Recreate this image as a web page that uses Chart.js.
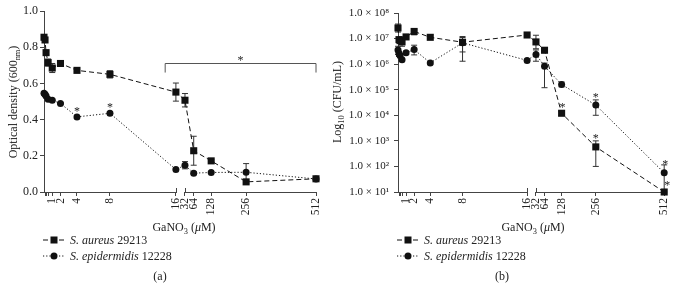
<!DOCTYPE html>
<html><head><meta charset="utf-8">
<script src="https://cdn.jsdelivr.net/npm/chart.js@4.4.1/dist/chart.umd.min.js"></script>
<style>
html,body{margin:0;padding:0;background:#fff;}
#wrap{position:relative;width:680px;height:288px;overflow:hidden;font-family:"Liberation Serif","DejaVu Serif",serif;color:#222;}
.cw{position:absolute;top:0;width:340px;height:245px;}
.ytitle{position:absolute;width:200px;height:16px;line-height:16px;text-align:center;font-size:12px;transform:rotate(-90deg);white-space:nowrap;}
.xtitle{position:absolute;width:200px;text-align:center;font-size:12px;line-height:14px;white-space:nowrap;}
.leg{position:absolute;font-size:12px;white-space:nowrap;}
.leg div{height:16px;line-height:16px;}
.leg svg{vertical-align:middle;margin-right:5px;position:relative;top:-1px}
.plab{position:absolute;width:40px;text-align:center;font-size:12px;}
sub{font-size:70%;vertical-align:-3px;line-height:0}
</style></head><body>
<div id="wrap">
 <div class="cw" style="left:0"><canvas id="ca"></canvas></div>
 <div class="cw" style="left:340px"><canvas id="cb"></canvas></div>
 <div class="ytitle" style="left:-87px;top:94px">Optical density (600<sub>nm</sub>)</div>
 <div class="ytitle" style="left:237px;top:94px">Log<sub>10</sub> (CFU/mL)</div>
 <div class="xtitle" style="left:84px;top:220px">GaNO<sub>3</sub> (<i>μ</i>M)</div>
 <div class="xtitle" style="left:433px;top:220px">GaNO<sub>3</sub> (<i>μ</i>M)</div>
 <div class="leg" style="left:43px;top:232px">
  <div><svg width="22" height="10"><line x1="0" y1="5" x2="22" y2="5" stroke="#111" stroke-width="1" stroke-dasharray="5,3"/><rect x="7.5" y="1.5" width="7" height="7" fill="#111"/></svg><i>S. aureus</i> 29213</div>
  <div><svg width="22" height="10"><line x1="0" y1="5" x2="22" y2="5" stroke="#111" stroke-width="1" stroke-dasharray="1.2,2"/><circle cx="11" cy="5" r="3.5" fill="#111"/></svg><i>S. epidermidis</i> 12228</div>
 </div>
 <div class="leg" style="left:397px;top:232px">
  <div><svg width="22" height="10"><line x1="0" y1="5" x2="22" y2="5" stroke="#111" stroke-width="1" stroke-dasharray="5,3"/><rect x="7.5" y="1.5" width="7" height="7" fill="#111"/></svg><i>S. aureus</i> 29213</div>
  <div><svg width="22" height="10"><line x1="0" y1="5" x2="22" y2="5" stroke="#111" stroke-width="1" stroke-dasharray="1.2,2"/><circle cx="11" cy="5" r="3.5" fill="#111"/></svg><i>S. epidermidis</i> 12228</div>
 </div>
 <div class="plab" style="left:140px;top:269px">(a)</div>
 <div class="plab" style="left:482px;top:269px">(b)</div>
</div>
<script>
// ---- data ----
const conc = [0, 0.125, 0.25, 0.5, 1, 2, 4, 8, 16, 32, 64, 128, 256, 512];
const tickConc = [0.125, 0.25, 0.5, 1, 2, 4, 8, 16, 32, 64, 128, 256, 512];
const tickLabels = ['', '', '', '1', '2', '4', '8', '16', '32', '64', '128', '256', '512'];

const odAureus    = [0.855, 0.84, 0.77, 0.715, 0.685, 0.71, 0.672, 0.65, 0.552, 0.507, 0.228, 0.172, 0.056, 0.073];
const odAureusErr = [0.01, 0.01, 0.01, 0.02, 0.025, 0.008, 0.008, 0.02, 0.05, 0.037, 0.08, 0.008, 0.008, 0.006];
const odEpi       = [0.545, 0.54, 0.53, 0.512, 0.507, 0.489, 0.415, 0.435, 0.124, 0.148, 0.104, 0.108, 0.109, 0.072];
const odEpiErr    = [0.005, 0.005, 0.005, 0.005, 0.005, 0.005, 0.008, 0.008, 0.005, 0.02, 0.008, 0.005, 0.048, 0.005];
const odTicks = [0, 0.2, 0.4, 0.6, 0.8, 1.0];

const cfuAureus   = [2.6e7, 9.1e6, 8.3e6, 7.4e6, 1.16e7, 1.9e7, 1.12e7, 7.2e6, 1.38e7, 7.4e6, 3.5e6, 1.2e4, 5.8e2, 1e1];
const cfuAureusLo = [1.8e7, 7.0e6, 6.5e6, 5.0e6, 1.0e7, 1.4e7, 1.05e7, 3.0e6, 1.3e7, 4.0e6, 2.8e6, 1.0e4, 1.0e2, 1e1];
const cfuAureusHi = [3.7e7, 1.1e7, 1.0e7, 1.16e7, 1.3e7, 2.3e7, 1.2e7, 1.1e7, 1.45e7, 1.35e7, 4.2e6, 1.4e4, 1.0e3, 1e1];
const cfuEpi      = [3.6e6, 2.6e6, 2.2e6, 1.5e6, 2.8e6, 3.7e6, 1.12e6, 6.8e6, 1.4e6, 2.4e6, 8.3e5, 1.6e5, 2.5e4, 56];
const cfuEpiLo    = [2.4e6, 2.0e6, 1.8e6, 1.3e6, 2.4e6, 2.3e6, 1.0e6, 1.3e6, 1.3e6, 1.3e6, 1.2e5, 1.3e5, 1.0e4, 10];
const cfuEpiHi    = [5.0e6, 3.2e6, 2.6e6, 1.7e6, 3.2e6, 5.5e6, 1.2e6, 1.2e7, 1.5e6, 3.6e6, 1.1e6, 2.0e5, 4.0e4, 115];
const cfuTicks = [1e1, 1e2, 1e3, 1e4, 1e5, 1e6, 1e7, 1e8];
const cfuTickLabels = ['1.0 × 10¹', '1.0 × 10²', '1.0 × 10³', '1.0 × 10⁴', '1.0 × 10⁵', '1.0 × 10⁶', '1.0 × 10⁷', '1.0 × 10⁸'];

// broken x axis: linear 0..16, gap, linear 32..512 compressed
function u(c) { return c <= 16 ? c : 17.1 + (c - 32) / 30.2; }

Chart.defaults.font.family = '"Liberation Serif","DejaVu Serif",serif';
Chart.defaults.font.size = 11;
Chart.defaults.color = '#222';

const AX = '#444';

const marks = {
  id: 'marks',
  beforeDatasetsDraw(chart, args, o) {
    const ctx = chart.ctx, xs = chart.scales.x, ys = chart.scales.y;
    const yb = chart.chartArea.bottom;
    ctx.save();
    ctx.strokeStyle = AX; ctx.lineWidth = 1;
    ctx.beginPath();
    ctx.moveTo(xs.getPixelForValue(0), yb + 0.5); ctx.lineTo(xs.getPixelForValue(16), yb + 0.5);
    ctx.moveTo(xs.getPixelForValue(u(32)), yb + 0.5); ctx.lineTo(xs.getPixelForValue(u(512)), yb + 0.5);
    [16, 32].forEach(c => { const px = Math.round(xs.getPixelForValue(u(c))) + 0.5; ctx.moveTo(px, yb - 4); ctx.lineTo(px, yb + 1); });
    ctx.stroke();
    ctx.strokeStyle = '#333';
    (o.errors || []).forEach(e => {
      conc.forEach((c, i) => {
        const x = xs.getPixelForValue(u(c));
        const y1 = ys.getPixelForValue(e.lo[i]), y2 = ys.getPixelForValue(e.hi[i]);
        if (Math.abs(y1 - y2) < 1.5) return;
        ctx.beginPath();
        ctx.moveTo(x, y1); ctx.lineTo(x, y2);
        ctx.moveTo(x - 3, y1); ctx.lineTo(x + 3, y1);
        ctx.moveTo(x - 3, y2); ctx.lineTo(x + 3, y2);
        ctx.stroke();
      });
    });
    ctx.restore();
  },
  afterDatasetsDraw(chart, args, o) {
    const ctx = chart.ctx, xs = chart.scales.x, ys = chart.scales.y;
    ctx.save();
    ctx.fillStyle = '#222'; ctx.font = '12px "Liberation Serif","DejaVu Serif",serif';
    ctx.textAlign = 'center'; ctx.textBaseline = 'middle';
    (o.stars || []).forEach(s => {
      const d = chart.data.datasets[s.ds].data[s.i];
      ctx.fillText('*', xs.getPixelForValue(d.x) + s.dx, ys.getPixelForValue(d.y) + s.dy + 2);
    });
    if (o.bracket) {
      const b = o.bracket;
      const x1 = xs.getPixelForValue(b.x1), x2 = xs.getPixelForValue(b.x2);
      const y = Math.round(ys.getPixelForValue(b.y)) + 0.5, yd = ys.getPixelForValue(b.yEnd);
      ctx.strokeStyle = '#555'; ctx.lineWidth = 1;
      ctx.beginPath();
      ctx.moveTo(x1, yd); ctx.lineTo(x1, y); ctx.lineTo(x2, y); ctx.lineTo(x2, yd);
      ctx.stroke();
      ctx.fillText('*', (x1 + x2) / 2, y - 5 + 2);
    }
    ctx.restore();
  }
};

function pts(vals) { return conc.map((c, i) => ({ x: u(c), y: vals[i] })); }

function xScale() {
  return {
    type: 'linear', min: 0, max: u(512),
    afterBuildTicks: s => { s.ticks = tickConc.map(c => ({ value: u(c) })); },
    afterFit: s => { s.height = 53; },
    ticks: { autoSkip: false, minRotation: 90, maxRotation: 90, padding: 2, font: { size: 11.5 },
             callback: (v, i) => tickLabels[i] },
    grid: { drawOnChartArea: false, drawTicks: true, tickLength: 4, color: AX },
    border: { display: false }
  };
}

function datasets(a, b) {
  return [
    { data: pts(a), showLine: true, borderColor: '#111', borderWidth: 1, borderDash: [5, 3],
      pointStyle: 'rect', pointRadius: 5, pointBackgroundColor: '#111', pointBorderWidth: 0, clip: false },
    { data: pts(b), showLine: true, borderColor: '#111', borderWidth: 1, borderDash: [1.2, 2],
      pointStyle: 'circle', pointRadius: 3.5, pointBackgroundColor: '#111', pointBorderWidth: 0, clip: false }
  ];
}

new Chart(document.getElementById('ca'), {
  type: 'scatter',
  data: { datasets: datasets(odAureus, odEpi) },
  options: {
    responsive: true, maintainAspectRatio: false, animation: false,
    layout: { padding: { left: 0, right: 24, top: 11, bottom: 0 } },
    scales: {
      x: xScale(),
      y: {
        type: 'linear', min: 0, max: 1,
        afterBuildTicks: s => { s.ticks = odTicks.map(v => ({ value: v })); },
        afterFit: s => { s.width = 44; },
        ticks: { padding: 2, font: { size: 12 }, callback: v => v.toFixed(1) },
        grid: { drawOnChartArea: false, drawTicks: true, tickLength: 4, color: AX },
        border: { display: true, color: AX }
      }
    },
    plugins: {
      legend: { display: false }, tooltip: { enabled: false },
      marks: {
        errors: [
          { lo: odAureus.map((v, i) => v - odAureusErr[i]), hi: odAureus.map((v, i) => v + odAureusErr[i]) },
          { lo: odEpi.map((v, i) => v - odEpiErr[i]), hi: odEpi.map((v, i) => v + odEpiErr[i]) }
        ],
        stars: [ { ds: 1, i: 6, dx: 0, dy: -7 }, { ds: 1, i: 7, dx: 0, dy: -7 } ],
        bracket: { x1: 14.7, x2: u(512), y: 0.713, yEnd: 0.66 }
      }
    }
  },
  plugins: [marks]
});

new Chart(document.getElementById('cb'), {
  type: 'scatter',
  data: { datasets: datasets(cfuAureus, cfuEpi) },
  options: {
    responsive: true, maintainAspectRatio: false, animation: false,
    layout: { padding: { left: 0, right: 12, top: 13, bottom: 0 } },
    scales: {
      x: xScale(),
      y: {
        type: 'logarithmic', min: 1e1, max: 1e8,
        afterBuildTicks: s => { s.ticks = cfuTicks.map(v => ({ value: v })); },
        afterFit: s => { s.width = 58; },
        ticks: { padding: 5, font: { size: 11 }, callback: (v, i) => cfuTickLabels[i] },
        grid: { drawOnChartArea: false, drawTicks: true, tickLength: 4, color: AX },
        border: { display: true, color: AX }
      }
    },
    plugins: {
      legend: { display: false }, tooltip: { enabled: false },
      marks: {
        errors: [ { lo: cfuAureusLo, hi: cfuAureusHi }, { lo: cfuEpiLo, hi: cfuEpiHi } ],
        stars: [ { ds: 0, i: 11, dx: 1, dy: -7 }, { ds: 0, i: 12, dx: 0, dy: -10 },
                 { ds: 1, i: 12, dx: 0, dy: -9 }, { ds: 1, i: 13, dx: 1, dy: -10 },
                 { ds: 0, i: 13, dx: 3, dy: -8 } ]
      }
    }
  },
  plugins: [marks]
});
</script>
</body></html>
